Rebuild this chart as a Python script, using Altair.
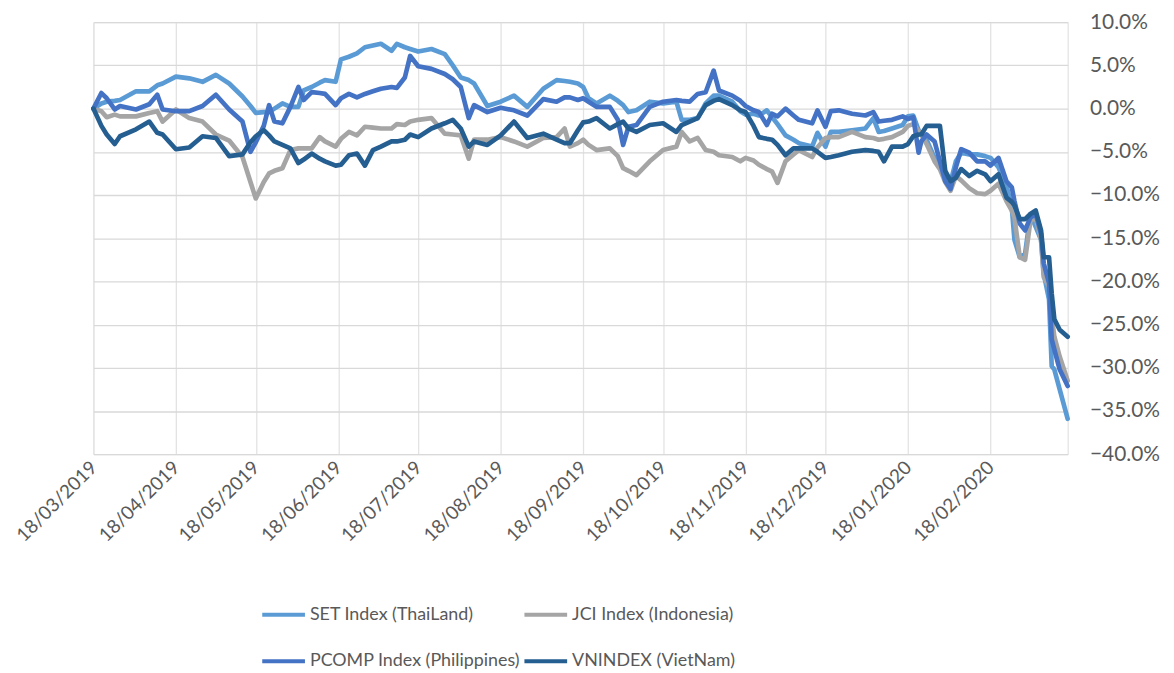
import altair as alt
import pandas as pd

dates = [
    "2019-03-18", "2019-03-21", "2019-03-23", "2019-03-26", "2019-03-28",
    "2019-04-03", "2019-04-08", "2019-04-11", "2019-04-13", "2019-04-18",
    "2019-04-23", "2019-04-28", "2019-05-03", "2019-05-08", "2019-05-13",
    "2019-05-16", "2019-05-18", "2019-05-21", "2019-05-23", "2019-05-25",
    "2019-05-28", "2019-05-31", "2019-06-03", "2019-06-05", "2019-06-08",
    "2019-06-11", "2019-06-13", "2019-06-17", "2019-06-19", "2019-06-22",
    "2019-06-25", "2019-06-28", "2019-07-01", "2019-07-04", "2019-07-08",
    "2019-07-10", "2019-07-13", "2019-07-15", "2019-07-18", "2019-07-23",
    "2019-07-28", "2019-07-31", "2019-08-03", "2019-08-06", "2019-08-08",
    "2019-08-13", "2019-08-18", "2019-08-23", "2019-08-28", "2019-09-03",
    "2019-09-08", "2019-09-11", "2019-09-13", "2019-09-16", "2019-09-18",
    "2019-09-20", "2019-09-23", "2019-09-28", "2019-10-01", "2019-10-03",
    "2019-10-05", "2019-10-08", "2019-10-13", "2019-10-18", "2019-10-23",
    "2019-10-25", "2019-10-28", "2019-10-31", "2019-11-03", "2019-11-06",
    "2019-11-08", "2019-11-13", "2019-11-16", "2019-11-18", "2019-11-21",
    "2019-11-23", "2019-11-26", "2019-11-28", "2019-11-30", "2019-12-03",
    "2019-12-06", "2019-12-08", "2019-12-13", "2019-12-15", "2019-12-18",
    "2019-12-20", "2019-12-23", "2019-12-28", "2020-01-02", "2020-01-05",
    "2020-01-07", "2020-01-09", "2020-01-12", "2020-01-16", "2020-01-18",
    "2020-01-20", "2020-01-22", "2020-01-23", "2020-01-25", "2020-01-28",
    "2020-01-30", "2020-02-01", "2020-02-03", "2020-02-05", "2020-02-07",
    "2020-02-10", "2020-02-13", "2020-02-16", "2020-02-18", "2020-02-21",
    "2020-02-24", "2020-02-26", "2020-02-27", "2020-02-29", "2020-03-02",
    "2020-03-04", "2020-03-06", "2020-03-08", "2020-03-09", "2020-03-11",
    "2020-03-12", "2020-03-13", "2020-03-15", "2020-03-18",
]

set_index = [
    0.0, 0.6, 0.8, 0.9, 1.0,
    2.0, 2.0, 2.7, 2.9, 3.7,
    3.5, 3.1, 3.9, 2.9, 1.4,
    0.3, -0.5, -0.4, -0.4, 0.0,
    0.6, 0.2, 0.2, 2.1, 2.5,
    3.0, 3.3, 3.1, 5.7, 6.0,
    6.4, 7.1, 7.3, 7.5, 6.7,
    7.5, 7.1, 6.9, 6.6, 6.9,
    6.3, 5.0, 3.6, 3.3, 2.9,
    0.3, 0.8, 1.5, 0.2, 2.3,
    3.3, 3.2, 3.1, 2.9, 2.5,
    1.2, 0.6, 1.5, 0.9, 0.4,
    -0.4, -0.2, 0.8, 0.6, 0.8,
    -1.3, -1.3, -1.1, 0.6, 1.5,
    1.5, 0.8, -0.3, -0.7, -0.6,
    -0.8, -0.2, -1.0, -1.8, -3.1,
    -3.6, -4.0, -4.4, -2.8, -4.4,
    -2.7, -2.7, -2.5, -2.3, -1.1,
    -2.7, -2.6, -2.3, -1.9, -0.9,
    -0.8, -2.5, -3.0, -3.6, -5.7,
    -6.4, -7.6, -8.5, -6.1, -5.1,
    -5.3, -5.3, -5.5, -5.7, -6.8,
    -8.9, -11.4, -15.2, -17.2, -16.8,
    -12.2, -13.7, -15.2, -19.1, -22.1,
    -29.8, -30.2, -32.5, -35.9,
]

jci_index = [
    0.0, -0.3, -1.0, -0.7, -0.9,
    -0.9, -0.5, -0.3, -1.5, -0.1,
    -1.1, -1.5, -3.0, -3.7, -5.6,
    -8.5, -10.4, -8.5, -7.5, -7.2,
    -6.9, -4.8, -4.6, -4.6, -4.6,
    -3.3, -3.8, -4.4, -3.5, -2.7,
    -3.1, -2.1, -2.2, -2.3, -2.3,
    -1.8, -1.9, -1.5, -1.3, -1.1,
    -2.9, -3.0, -3.1, -5.8, -3.6,
    -3.6, -3.3, -3.8, -4.4, -3.4,
    -3.3, -2.3, -4.4, -4.0, -3.6,
    -4.2, -4.8, -4.6, -5.5, -6.9,
    -7.2, -7.7, -6.1, -4.8, -4.4,
    -2.7, -3.8, -3.4, -4.8, -5.0,
    -5.4, -5.6, -6.1, -5.7, -6.0,
    -6.5, -7.0, -7.3, -8.6, -6.1,
    -5.3, -4.8, -5.6, -4.5, -3.4,
    -3.3, -3.3, -2.7, -3.3, -3.4,
    -3.6, -3.5, -3.3, -2.7, -2.0,
    -1.8, -2.6, -3.0, -4.1, -6.1,
    -7.0, -8.5, -9.5, -7.8, -8.3,
    -9.2, -9.8, -9.9, -9.5, -8.7,
    -10.7, -11.8, -12.6, -17.2, -17.5,
    -13.0, -12.6, -15.2, -19.5, -20.6,
    -24.1, -26.4, -28.7, -31.5,
]

pcomp_index = [
    0.0, 1.8, 1.2, -0.1, 0.3,
    -0.1, 0.5, 1.6, -0.1, -0.3,
    -0.3, 0.3, 1.6, -0.1, -1.5,
    -5.0, -3.9, -2.0, 0.4, -1.5,
    -1.7, 0.2, 2.5, 1.0, 1.9,
    1.8, 1.7, 0.4, 1.2, 1.7,
    1.3, 1.7, 2.0, 2.3, 2.5,
    2.4, 3.6, 6.1, 4.9, 4.6,
    4.0, 3.4, 2.5, -1.1, 0.4,
    -0.4, 0.1, -0.2, -0.8, 1.1,
    0.8, 1.3, 1.3, 1.0, 1.2,
    0.8, 0.2, 0.2, -1.3, -4.2,
    -2.1, -1.9, 0.2, 0.8, 1.0,
    0.9, 0.8, 1.7, 1.9, 4.4,
    2.1, 1.5, 0.9, 0.3, -0.2,
    -0.4, -1.9, -0.6, -0.9, 0.0,
    -0.8, -1.3, -1.7, -0.2, -2.1,
    -0.3, -0.2, -0.6, -0.8, -0.4,
    -1.5, -1.4, -1.3, -0.9, -1.2,
    -1.0, -5.1, -3.8, -3.0, -3.8,
    -6.1, -8.4, -9.3, -6.8, -4.7,
    -5.1, -6.1, -6.1, -6.6, -5.7,
    -8.4, -9.1, -10.7, -13.3, -14.1,
    -12.6, -12.2, -14.5, -17.9, -20.2,
    -26.7, -27.9, -30.2, -32.1,
]

vnindex = [
    0.0, -2.0, -3.0, -4.1, -3.2,
    -2.4, -1.5, -2.8, -3.0, -4.7,
    -4.5, -3.2, -3.4, -5.5, -5.3,
    -3.9, -3.2, -2.5, -3.1, -3.8,
    -4.2, -4.6, -6.3, -5.9, -5.2,
    -5.8, -6.1, -6.6, -6.5, -5.4,
    -5.2, -6.6, -4.8, -4.4, -3.8,
    -3.8, -3.6, -3.0, -3.3, -2.3,
    -1.7, -1.3, -2.3, -4.4, -3.8,
    -4.2, -3.1, -1.5, -3.4, -2.9,
    -3.6, -4.0, -4.0, -2.5, -1.6,
    -1.5, -1.1, -2.3, -1.8, -1.5,
    -2.3, -2.7, -1.9, -1.7, -2.7,
    -1.9, -1.5, -1.1, 0.4, 0.9,
    1.1, 0.4, -0.2, -0.4, -2.0,
    -3.3, -3.5, -3.6, -4.2, -5.4,
    -4.6, -4.6, -4.6, -5.0, -5.7,
    -5.6, -5.4, -5.0, -4.8, -4.9,
    -5.0, -6.1, -4.4, -4.4, -4.1,
    -3.2, -3.0, -3.0, -2.0, -2.0,
    -2.0, -7.2, -8.4, -8.0, -7.0,
    -7.8, -7.2, -7.6, -8.4, -7.6,
    -10.3, -10.8, -11.2, -12.8, -12.8,
    -12.2, -11.8, -14.1, -17.2, -17.2,
    -21.4, -24.4, -25.6, -26.4,
]

series_names = [
    "SET Index (ThaiLand)",
    "JCI Index (Indonesia)",
    "PCOMP Index (Philippines)",
    "VNINDEX (VietNam)",
]
series_colors = ["#5B9BD5", "#A5A5A5", "#4472C4", "#255E91"]
series_values = [set_index, jci_index, pcomp_index, vnindex]

y_ticks = [-40, -35, -30, -25, -20, -15, -10, -5, 0, 5, 10]
x_ticks = [
    (2019, 3, 18), (2019, 4, 18), (2019, 5, 18), (2019, 6, 18),
    (2019, 7, 18), (2019, 8, 18), (2019, 9, 18), (2019, 10, 18),
    (2019, 11, 18), (2019, 12, 18), (2020, 1, 18), (2020, 2, 18),
]
x_domain = [(2019, 3, 18), (2020, 3, 18)]

rows = []
for name, vals in zip(series_names, series_values):
    assert len(vals) == len(dates), (name, len(vals), len(dates))
    for d, v in zip(dates, vals):
        rows.append({"date": d + "T00:00:00", "series": name, "value": v})
df = pd.DataFrame(rows)

FONT = "Lato"
TXT = "#595959"


def dt(t):
    return alt.DateTime(year=t[0], month=t[1], date=t[2])


base = alt.Chart(df).mark_line(
    strokeWidth=4.7, strokeCap="round", strokeJoin="round"
).encode(
    x=alt.X(
        "date:T",
        scale=alt.Scale(domain=[dt(t) for t in x_domain], nice=False),
        axis=alt.Axis(
            values=[dt(t) for t in x_ticks],
            format="%d/%m/%Y",
            labelAngle=-45,
            labelAlign="right",
            labelBaseline="middle",
            grid=True,
            gridColor="#e3e3e3",
            gridWidth=1.3,
            domain=False,
            ticks=False,
            labelFont=FONT,
            labelFontSize=19,
            labelColor=TXT,
            labelPadding=10,
            labelFlush=False,
            labelOverlap=False,
            title=None,
        ),
    ),
    y=alt.Y(
        "value:Q",
        scale=alt.Scale(domain=[-40, 10], nice=False, zero=False),
        axis=alt.Axis(
            orient="right",
            values=y_ticks,
            labelExpr="format(datum.value, '.1f') + '%'",
            grid=True,
            gridColor="#d9d9d9",
            gridWidth=1.3,
            domain=False,
            ticks=False,
            labelFont=FONT,
            labelFontSize=21,
            labelColor=TXT,
            labelPadding=22,
            labelFlush=False,
            title=None,
        ),
    ),
    color=alt.Color(
        "series:N",
        scale=alt.Scale(domain=series_names, range=series_colors),
        legend=alt.Legend(
            orient="none",
            legendX=168,
            legendY=573,
            direction="horizontal",
            columns=2,
            title=None,
            symbolType="stroke",
            symbolSize=1849,
            symbolStrokeWidth=4,
            labelFont=FONT,
            labelFontSize=18,
            labelColor=TXT,
            labelOffset=3,
            columnPadding=-4,
            rowPadding=14,
            padding=0,
            labelLimit=400,
        ),
    ),
)

layers = [base.transform_filter(alt.datum.series == n) for n in series_names]

chart = alt.layer(*layers).properties(
    width=981,
    height=435,
    autosize=alt.AutoSizeParams(type="none"),
    padding={"left": 86, "top": 12, "right": 99, "bottom": 218},
).configure_view(stroke="#e0e0e0", strokeWidth=1.3).configure(background="white")

chart.save("out.html", embed_options={"renderer": "svg", "actions": False})
